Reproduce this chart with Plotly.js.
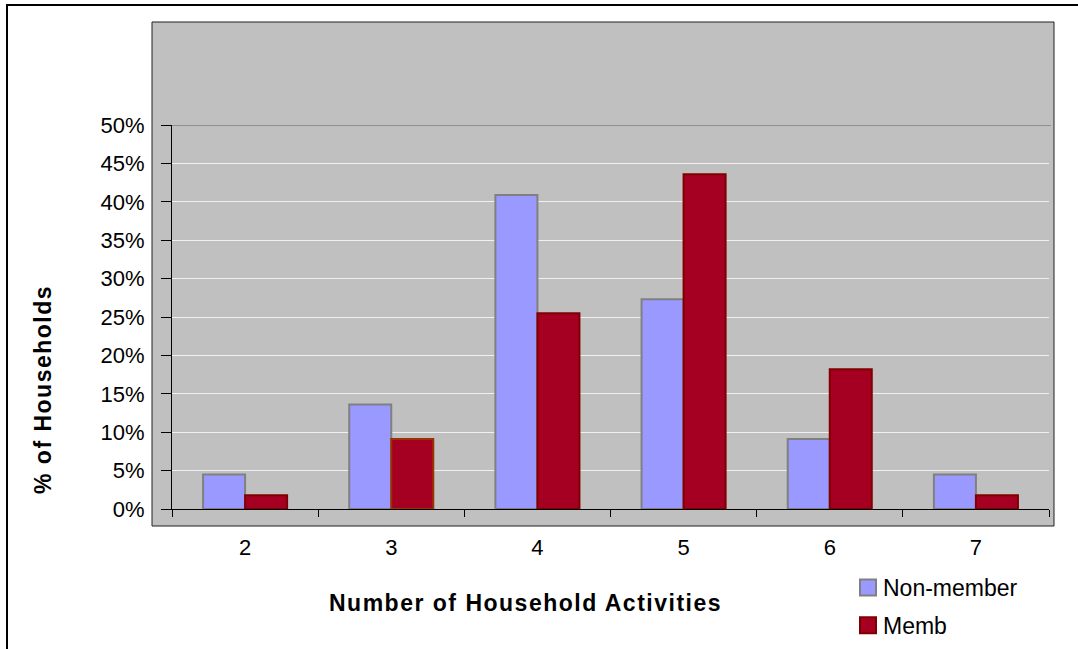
<!DOCTYPE html>
<html>
<head>
<meta charset="utf-8">
<script src="https://cdn.plot.ly/plotly-3.0.1.min.js"></script>
<style>
  html, body { margin: 0; padding: 0; background: #ffffff; }
  #chart { width: 1078px; height: 649px; }
  /* slightly looser lettering for the axis titles */
  .annotation-text { letter-spacing: 1.5px; }
</style>
</head>
<body>
<div id="chart"></div>
<script>
// Number of household activities (categories)
const activities = ['2', '3', '4', '5', '6', '7'];
// Share of households (%) in each group
const nonMember = [4.5, 13.6, 40.9, 27.3, 9.1, 4.5];
const member = [1.8, 9.1, 25.5, 43.6, 18.2, 1.8];
// Y-axis tick values (%)
const yTicks = [0, 5, 10, 15, 20, 25, 30, 35, 40, 45, 50];

const FONT = 'Liberation Sans, Arial, Helvetica, sans-serif';

const traces = [
  {
    type: 'bar',
    name: 'Non-member',
    legendgroup: 'nonmember',
    x: activities,
    y: nonMember,
    marker: { color: '#9999FF', line: { color: '#808080', width: 2 } },
    hoverinfo: 'x+y+name'
  },
  {
    type: 'bar',
    name: 'Memb',
    legendgroup: 'member',
    x: activities,
    y: member,
    marker: {
      color: '#A50021',
      line: { color: ['#800000', '#993300', '#800000', '#800000', '#800000', '#800000'], width: 2 }
    },
    hoverinfo: 'x+y+name'
  }
];

// Pixel geometry helpers for paper-referenced decorations
const W = 1078, H = 649;
const m = { l: 172, r: 29, t: 125, b: 140, autoexpand: false };
const pw = W - m.l - m.r, ph = H - m.t - m.b;
const px = v => (v - m.l) / pw;
const py = v => (H - m.b - v) / ph;

const layout = {
  width: W,
  height: H,
  margin: m,
  paper_bgcolor: '#ffffff',
  plot_bgcolor: '#C0C0C0',
  font: { family: FONT, size: 21, color: '#000000' },
  barmode: 'group',
  bargap: 0.425,
  bargroupgap: 0,
  showlegend: true,
  legend: {
    x: px(843), xanchor: 'left',
    y: py(566), yanchor: 'top',
    bgcolor: 'rgba(0,0,0,0)',
    font: { family: FONT, size: 23, color: '#000000' },
    traceorder: 'grouped',
    tracegroupgap: 5
  },
  xaxis: {
    type: 'category',
    range: [-0.5, 5.5],
    showline: true, linecolor: '#000000', linewidth: 1,
    ticks: 'outside', ticklen: 7, tickcolor: '#000000', tickwidth: 1,
    tickson: 'boundaries',
    showgrid: false, zeroline: false,
    ticklabelstandoff: 19,
    tickfont: { family: FONT, size: 22, color: '#000000' },
    fixedrange: true
  },
  yaxis: {
    range: [0, 50],
    tickvals: yTicks,
    ticktext: yTicks.map(v => v + '%'),
    showline: true, linecolor: '#000000', linewidth: 1,
    ticks: 'outside', ticklen: 10, tickcolor: '#000000', tickwidth: 1,
    showgrid: true, gridcolor: '#F0F0F0', gridwidth: 1,
    zeroline: false,
    ticklabelstandoff: 12,
    tickfont: { family: FONT, size: 22, color: '#000000' },
    fixedrange: true
  },
  shapes: [
    // outer chart frame
    { type: 'rect', xref: 'paper', yref: 'paper', layer: 'below',
      x0: px(7), x1: px(1095), y0: py(665), y1: py(5),
      line: { color: '#000000', width: 2 }, fillcolor: 'rgba(0,0,0,0)' },
    // grey plot-area panel
    { type: 'rect', xref: 'paper', yref: 'paper', layer: 'below',
      x0: px(152), x1: px(1054), y0: py(526), y1: py(22),
      line: { color: '#202020', width: 1 }, fillcolor: '#C0C0C0' },
    // darker top gridline at 50%
    { type: 'line', xref: 'paper', yref: 'y', layer: 'below',
      x0: 0, x1: px(1051), y0: 50, y1: 50,
      line: { color: '#808080', width: 1.5 } }
  ],
  annotations: [
    { text: '<b>Number of Household Activities</b>', xref: 'paper', yref: 'paper',
      x: px(525), y: py(603), xanchor: 'center', yanchor: 'middle', showarrow: false,
      font: { family: FONT, size: 23, color: '#000000' } },
    { text: '<b>% of Households</b>', xref: 'paper', yref: 'paper',
      x: px(43), y: py(390), xanchor: 'center', yanchor: 'middle', showarrow: false,
      textangle: -90,
      font: { family: FONT, size: 23, color: '#000000' } }
  ]
};

Plotly.newPlot('chart', traces, layout, { displayModeBar: false, staticPlot: true })
  .then(gd => {
    // larger legend swatches, placed close to their labels
    gd.querySelectorAll('.legend .legendpoints path').forEach(p => {
      p.setAttribute('d', 'M13,8H-3V-8H13Z');
    });
  });
</script>
</body>
</html>
